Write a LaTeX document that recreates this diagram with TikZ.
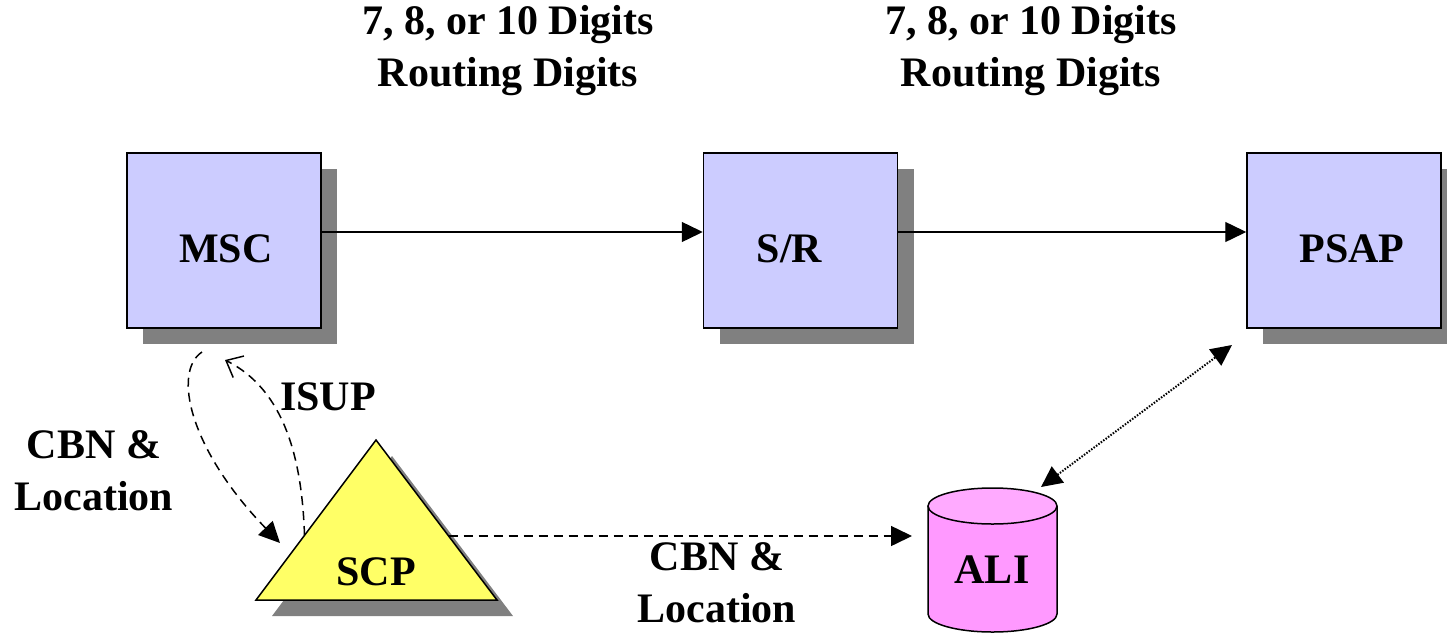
\documentclass[tikz,border=0pt]{standalone}
\usepackage{fontspec}
\setmainfont{Liberation Serif}
\usetikzlibrary{arrows.meta,shadows}
\definecolor{boxfill}{HTML}{CCCCFF}
\definecolor{shadowgray}{HTML}{808080}
\definecolor{scpfill}{HTML}{FFFF66}
\definecolor{alibody}{HTML}{FF99FF}
\definecolor{alitop}{HTML}{FFAAFF}
\begin{document}
\begin{tikzpicture}[x=1pt,y=-1pt,
  netbox/.style={draw=black, line width=1.5pt, fill=boxfill, minimum width=194pt,
    minimum height=175pt, inner sep=0pt,
    drop shadow={shadow xshift=16pt, shadow yshift=-16pt, fill=shadowgray, draw=none, opacity=1}},
  lbl/.style={anchor=base, align=center, inner sep=0pt,
    font=\bfseries\fontsize{42pt}{52pt}\selectfont},
  solidarr/.style={line width=1.4pt, -{Triangle[length=21pt,width=20pt]}},
  dasharr/.style={line width=1.5pt, dash pattern=on 9pt off 6pt, -{Triangle[length=21pt,width=20pt]}},
  barbarr/.style={line width=1.5pt, dash pattern=on 9pt off 6pt, -{Straight Barb[length=14pt,width=24pt]}},
  dotarr/.style={line width=2pt, dash pattern=on 1.5pt off 1.5pt,
    {Triangle[length=21pt,width=20pt]}-{Triangle[length=21pt,width=20pt]}},
  outline/.style={line width=1.5pt, line join=miter}
]
\useasboundingbox (0,0) rectangle (1447,632);

% boxes
\node[netbox] (msc) at (224,240.5) {};
\node[netbox] (sr) at (800.5,240.5) {};
\node[netbox] (psap) at (1344,240.5) {};

% SCP triangle
\coordinate (scpA) at (376,440);
\coordinate (scpBL) at (256,600);
\coordinate (scpBR) at (497,600);
\fill[shadowgray] ([shift={(16,16)}]scpA) -- ([shift={(16,16)}]scpBL) -- ([shift={(16,16)}]scpBR) -- cycle;
\filldraw[outline, fill=scpfill] (scpA) -- (scpBL) -- (scpBR) -- cycle;

% ALI cylinder
\filldraw[outline, fill=alibody] (928,506) -- (928,614)
  arc[start angle=180, end angle=360, x radius=64.5pt, y radius=18pt] -- (1057,506);
\filldraw[outline, fill=alitop] (992.5,506) ellipse[x radius=64.5pt, y radius=18pt];

% connector end points
\coordinate (mscB) at (202,352);
\coordinate (scpIn) at (280,543);
\coordinate (scpOut) at (304.5,535);
\coordinate (mscIn) at (225,360);
\coordinate (scpE) at (448.6,536);
\coordinate (aliIn) at (912,536);
\coordinate (aliT) at (1041,487);
\coordinate (psapIn) at (1232,345);

% connectors
\draw[solidarr] ([yshift=8.5pt]msc.east) -- ([yshift=8.5pt]sr.west);
\draw[solidarr] ([yshift=8.5pt]sr.east) -- ([yshift=8.5pt]psap.west);
\draw[dasharr] (mscB) .. controls (172,372) and (190,450) .. (scpIn);
\draw[barbarr] (scpOut) .. controls (302,460) and (285,390) .. (mscIn);
\draw[dasharr] (scpE) -- (aliIn);
\draw[dotarr] (aliT) -- (psapIn);

% labels (base = baseline of the last line)
\node[lbl] (dig1) at (508,86) {7, 8, or 10 Digits\\Routing Digits};
\node[lbl] (dig2) at (1031,86) {7, 8, or 10 Digits\\Routing Digits};
\node[lbl] (mscL) at (226,262) {MSC};
\node[lbl] (srL) at (789.5,262) {S/R};
\node[lbl] (psapL) at (1352,262) {PSAP};
\node[lbl] (isup) at (328,410) {ISUP};
\node[lbl] (cbn1) at (94,510) {CBN \&\\Location};
\node[lbl] (scpL) at (376,585) {SCP};
\node[lbl] (cbn2) at (717,622) {CBN \&\\Location};
\node[lbl] (aliL) at (992,583) {ALI};
\end{tikzpicture}
\end{document}
